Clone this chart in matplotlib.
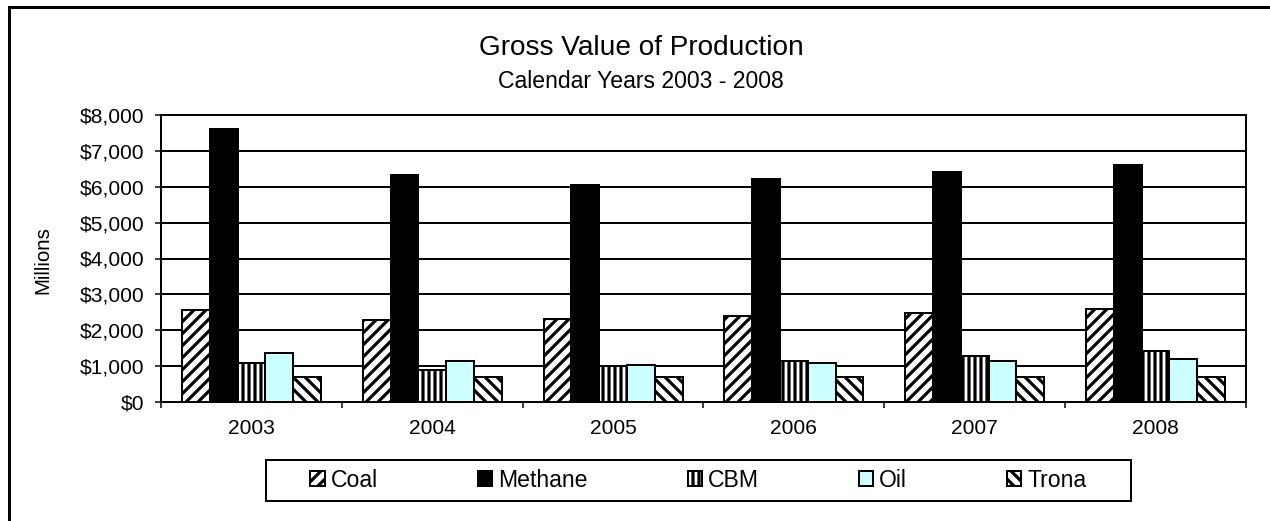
import matplotlib
matplotlib.use("Agg")
import matplotlib as mpl
import matplotlib.pyplot as plt
from matplotlib.patches import Rectangle
import numpy as np

plt.rcParams['font.family'] = ['Liberation Sans', 'DejaVu Sans']
plt.rcParams['hatch.linewidth'] = 3.2
plt.rcParams['hatch.color'] = 'black'

years = ['2003', '2004', '2005', '2006', '2007', '2008']
series_names = ['Coal', 'Methane', 'CBM', 'Oil', 'Trona']
coal = [2570, 2290, 2320, 2400, 2470, 2600]
methane = [7600, 6330, 6040, 6220, 6410, 6600]
cbm = [1095, 890, 1000, 1150, 1280, 1420]
oil = [1375, 1150, 1040, 1080, 1130, 1190]
trona = [700, 695, 710, 710, 710, 710]
yticks = [0, 1000, 2000, 3000, 4000, 5000, 6000, 7000, 8000]
ytick_labels = ['$0', '$1,000', '$2,000', '$3,000', '$4,000', '$5,000', '$6,000', '$7,000', '$8,000']

values = [coal, methane, cbm, oil, trona]
facecolors = ['white', 'black', 'white', '#CCFFFF', 'white']
hatches = ['//', None, '||', None, '\\\\']

W, H = 1270, 521
dpi = 72
fig = plt.figure(figsize=(W / dpi, H / dpi), dpi=dpi)
fig.patch.set_facecolor('white')

ax = fig.add_axes([161 / W, 1 - 402 / H, (1246 - 161) / W, (402 - 115) / H])

x = np.arange(len(years))
bw = 1 / 1.3 / 5
handles = []
for k, (vals, fc, hh, name) in enumerate(zip(values, facecolors, hatches, series_names)):
    bars = ax.bar(x + (k - 2) * bw, vals, width=bw, color=fc, edgecolor='black',
                  linewidth=2, hatch=hh, label=name, zorder=3)
    handles.append(bars)

ax.set_xlim(-0.5, len(years) - 0.5)
ax.set_ylim(0, 8000)
ax.set_yticks(yticks)
ax.set_yticklabels(ytick_labels, fontsize=21)
ax.yaxis.grid(True, color='black', linewidth=2, zorder=0)
ax.set_axisbelow(True)
ax.tick_params(axis='y', direction='out', length=6, width=1.5, pad=11)

ax.set_xticks(np.arange(-0.5, len(years)), minor=False)
ax.set_xticklabels([])
ax.set_xticks(x, minor=True)
ax.set_xticklabels(years, minor=True, fontsize=21)
ax.tick_params(axis='x', which='major', direction='out', length=6, width=1.5)
ax.tick_params(axis='x', which='minor', length=0, pad=17)

for s in ax.spines.values():
    s.set_linewidth(2)
    s.set_color('black')

fig.text(641 / W, 1 - 48 / H, 'Gross Value of Production', ha='center', va='center', fontsize=28)
fig.text(641 / W, 1 - 81 / H, 'Calendar Years 2003 - 2008', ha='center', va='center', fontsize=23)
fig.text(43 / W, 1 - 260 / H, 'Millions', rotation=90, ha='center', va='center', fontsize=20.5)

leg = fig.legend(handles=handles, labels=series_names, loc='center',
                 bbox_to_anchor=(698.5 / W, 1 - 480.5 / H), ncol=5, fontsize=23,
                 frameon=False,
                 handlelength=0.62, handleheight=0.62, handletextpad=0.26,
                 columnspacing=4.35, borderpad=0.3, borderaxespad=0)

legend_box = Rectangle((266 / W, 1 - 501 / H), (1131 - 266) / W, 41 / H,
                       transform=fig.transFigure, fill=True, facecolor='white',
                       edgecolor='black', linewidth=2, zorder=0)
fig.add_artist(legend_box)

frame = Rectangle((9 / W, -0.2), 1.5, 1.2 - 6.5 / H, transform=fig.transFigure,
                  fill=False, edgecolor='black', linewidth=3, clip_on=False)
fig.add_artist(frame)

fig.savefig('out.png', dpi=dpi, facecolor='white')
